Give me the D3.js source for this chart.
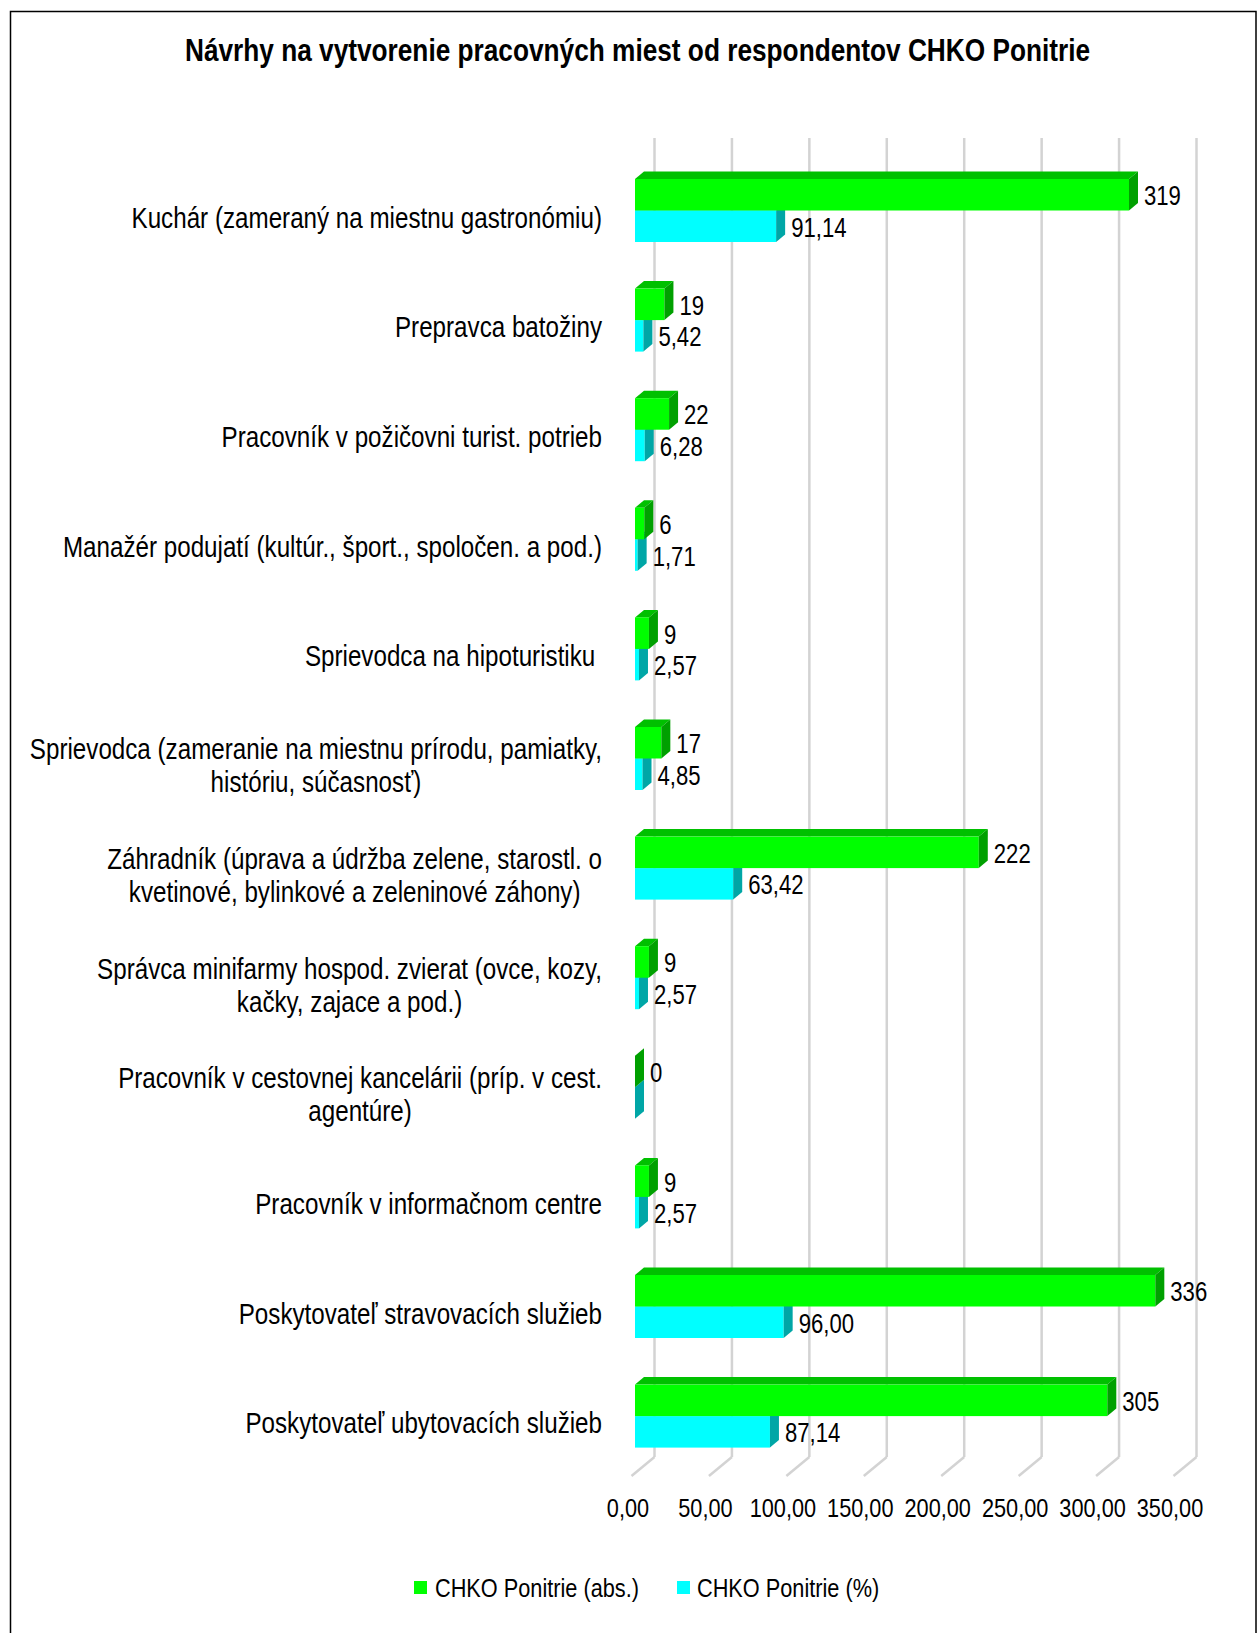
<!DOCTYPE html>
<html>
<head>
<meta charset="utf-8">
<script src="https://cdn.jsdelivr.net/npm/d3@7/dist/d3.min.js"></script>
<style>
  html, body { margin: 0; padding: 0; background: #fff; }
  svg { display: block; }
  text { font-family: "Liberation Sans", Arial, sans-serif; fill: #000; }
</style>
</head>
<body>
<svg id="chart" width="1257" height="1633"></svg>
<script>
// Job categories, from top to bottom
const categories = [
  "Kuchár (zameraný na miestnu gastronómiu)",
  "Prepravca batožiny",
  "Pracovník v požičovni turist. potrieb",
  "Manažér podujatí (kultúr., šport., spoločen. a pod.)",
  "Sprievodca na hipoturistiku\u00a0",
  "Sprievodca (zameranie na miestnu prírodu, pamiatky,|históriu, súčasnosť)",
  "Záhradník (úprava a údržba zelene, starostl. o|kvetinové, bylinkové a zeleninové záhony)",
  "Správca minifarmy hospod. zvierat (ovce, kozy,|kačky, zajace a pod.)",
  "Pracovník v cestovnej kancelárii (príp. v cest.|agentúre)",
  "Pracovník v informačnom centre",
  "Poskytovateľ stravovacích služieb",
  "Poskytovateľ ubytovacích služieb"
];
// Series values
const absValues = [319, 19, 22, 6, 9, 17, 222, 9, 0, 9, 336, 305];
const pctValues = [91.14, 5.42, 6.28, 1.71, 2.57, 4.85, 63.42, 2.57, 0, 2.57, 96.00, 87.14];
const seriesNames = ["CHKO Ponitrie (abs.)", "CHKO Ponitrie (%)"];
const tickValues = [0, 50, 100, 150, 200, 250, 300, 350];
const titleText = "Návrhy na vytvorenie pracovných miest od respondentov CHKO Ponitrie";

const svg = d3.select("#chart");
const NARROW = 0.82;          // horizontal squeeze of the label face
const comma = v => v.toFixed(2).replace(".", ",");

// Frame
svg.append("path")
  .attr("d", "M10.5,1640 V11.5 H1256 V1640")
  .attr("fill", "none").attr("stroke", "#000").attr("stroke-width", 1.5);

// Condensed text helper: a group that is squeezed horizontally
function narrowText(x, y, str, opts = {}) {
  const g = svg.append("g")
    .attr("transform", `translate(${x},${y}) scale(${NARROW},1)`);
  const t = g.append("text")
    .attr("x", 0).attr("y", 0).attr("dy", "0.35em")
    .attr("text-anchor", opts.anchor || "start")
    .style("font-size", (opts.size || 27) + "px")
    .style("font-weight", opts.weight || "normal")
    .text(str);
  return t;
}

// Title
narrowText(637.5, 50, titleText, { anchor: "middle", size: 32, weight: "bold" });

// Scales
const x = d3.scaleLinear().domain([0, 350]).range([635, 1177]);
const y = d3.scaleBand().domain(categories).range([155.7, 1470.9]).padding(0);
const barH = 31.5;
const bdx = 9, bdy = 7.5;       // bar depth
const wdx = 19.5;               // back wall offset
const wallTop = 138, wallBottom = 1457;

// Back wall gridlines and floor lines
const grid = svg.append("g");
tickValues.forEach(t => {
  const xb = x(t) + wdx;
  grid.append("line")
    .attr("x1", xb).attr("x2", xb).attr("y1", wallTop).attr("y2", wallBottom)
    .attr("stroke", "#d3d3d3").attr("stroke-width", 2.5);
  grid.append("line")
    .attr("x1", xb).attr("y1", wallBottom).attr("x2", xb - 23).attr("y2", wallBottom + 19)
    .attr("stroke", "#d3d3d3").attr("stroke-width", 2.5);
});

// Tick labels
tickValues.forEach(t => {
  narrowText(x(t) - 7, 1508, comma(t), { anchor: "middle", size: 26.5 });
});

// 3D bar drawing
function bar3d(g, v, yTop, colors) {
  const x0 = x(0), xe = x(v), yb = yTop + barH;
  // top face
  g.append("path")
    .attr("d", `M${x0},${yTop} L${x0 + bdx},${yTop - bdy} L${xe + bdx},${yTop - bdy} L${xe},${yTop} Z`)
    .attr("fill", colors.top);
  // front face
  if (v > 0) {
    g.append("rect")
      .attr("x", x0).attr("y", yTop).attr("width", xe - x0).attr("height", barH)
      .attr("fill", colors.front);
  }
  // side face
  g.append("path")
    .attr("d", `M${xe},${yTop} L${xe + bdx},${yTop - bdy} L${xe + bdx},${yb - bdy} L${xe},${yb} Z`)
    .attr("fill", colors.side);
}

const greenC = { front: "#00ff00", top: "#00c000", side: "#00a000" };
const cyanC = { front: "#00ffff", top: "#00c4c4", side: "#00a6a6" };

const bars = svg.append("g");
categories.forEach((c, i) => {
  const mid = y(c) + y.bandwidth() / 2;
  // percentage bar (lower), then absolute bar (upper)
  bar3d(bars, pctValues[i], mid, cyanC);
  bar3d(bars, absValues[i], mid - barH, greenC);
});

// Value labels
categories.forEach((c, i) => {
  const mid = y(c) + y.bandwidth() / 2;
  narrowText(x(absValues[i]) + bdx + 6, mid - barH / 2 + 1, String(absValues[i]), { size: 27 });
  if (pctValues[i] > 0) {
    narrowText(x(pctValues[i]) + bdx + 6, mid + barH / 2 + 1, comma(pctValues[i]), { size: 27 });
  }
});

// Category labels: right-aligned block, lines centred within it
const labelRight = 602;
const labelSize = 29.5;
categories.forEach(c => {
  const mid = y(c) + y.bandwidth() / 2 + 7;
  const lines = c.split("|");
  if (lines.length === 1) {
    narrowText(labelRight, mid, lines[0], { anchor: "end", size: labelSize });
  } else {
    const lh = 33;
    const texts = lines.map((ln, k) =>
      narrowText(0, mid + (k - (lines.length - 1) / 2) * lh, ln, { anchor: "middle", size: labelSize }));
    const w = d3.max(texts, t => t.node().getComputedTextLength()) * NARROW;
    const cx = labelRight - w / 2;
    texts.forEach((t, k) => {
      d3.select(t.node().parentNode)
        .attr("transform", `translate(${cx},${mid + (k - (lines.length - 1) / 2) * lh}) scale(${NARROW},1)`);
    });
  }
});

// Legend
const legendItems = [
  { name: seriesNames[0], color: "#00ff00", sx: 414, tx: 435 },
  { name: seriesNames[1], color: "#00ffff", sx: 677, tx: 697 }
];
legendItems.forEach(d => {
  svg.append("rect").attr("x", d.sx).attr("y", 1581).attr("width", 13).attr("height", 13).attr("fill", d.color);
  narrowText(d.tx, 1588, d.name, { size: 26.5 });
});
</script>
</body>
</html>
